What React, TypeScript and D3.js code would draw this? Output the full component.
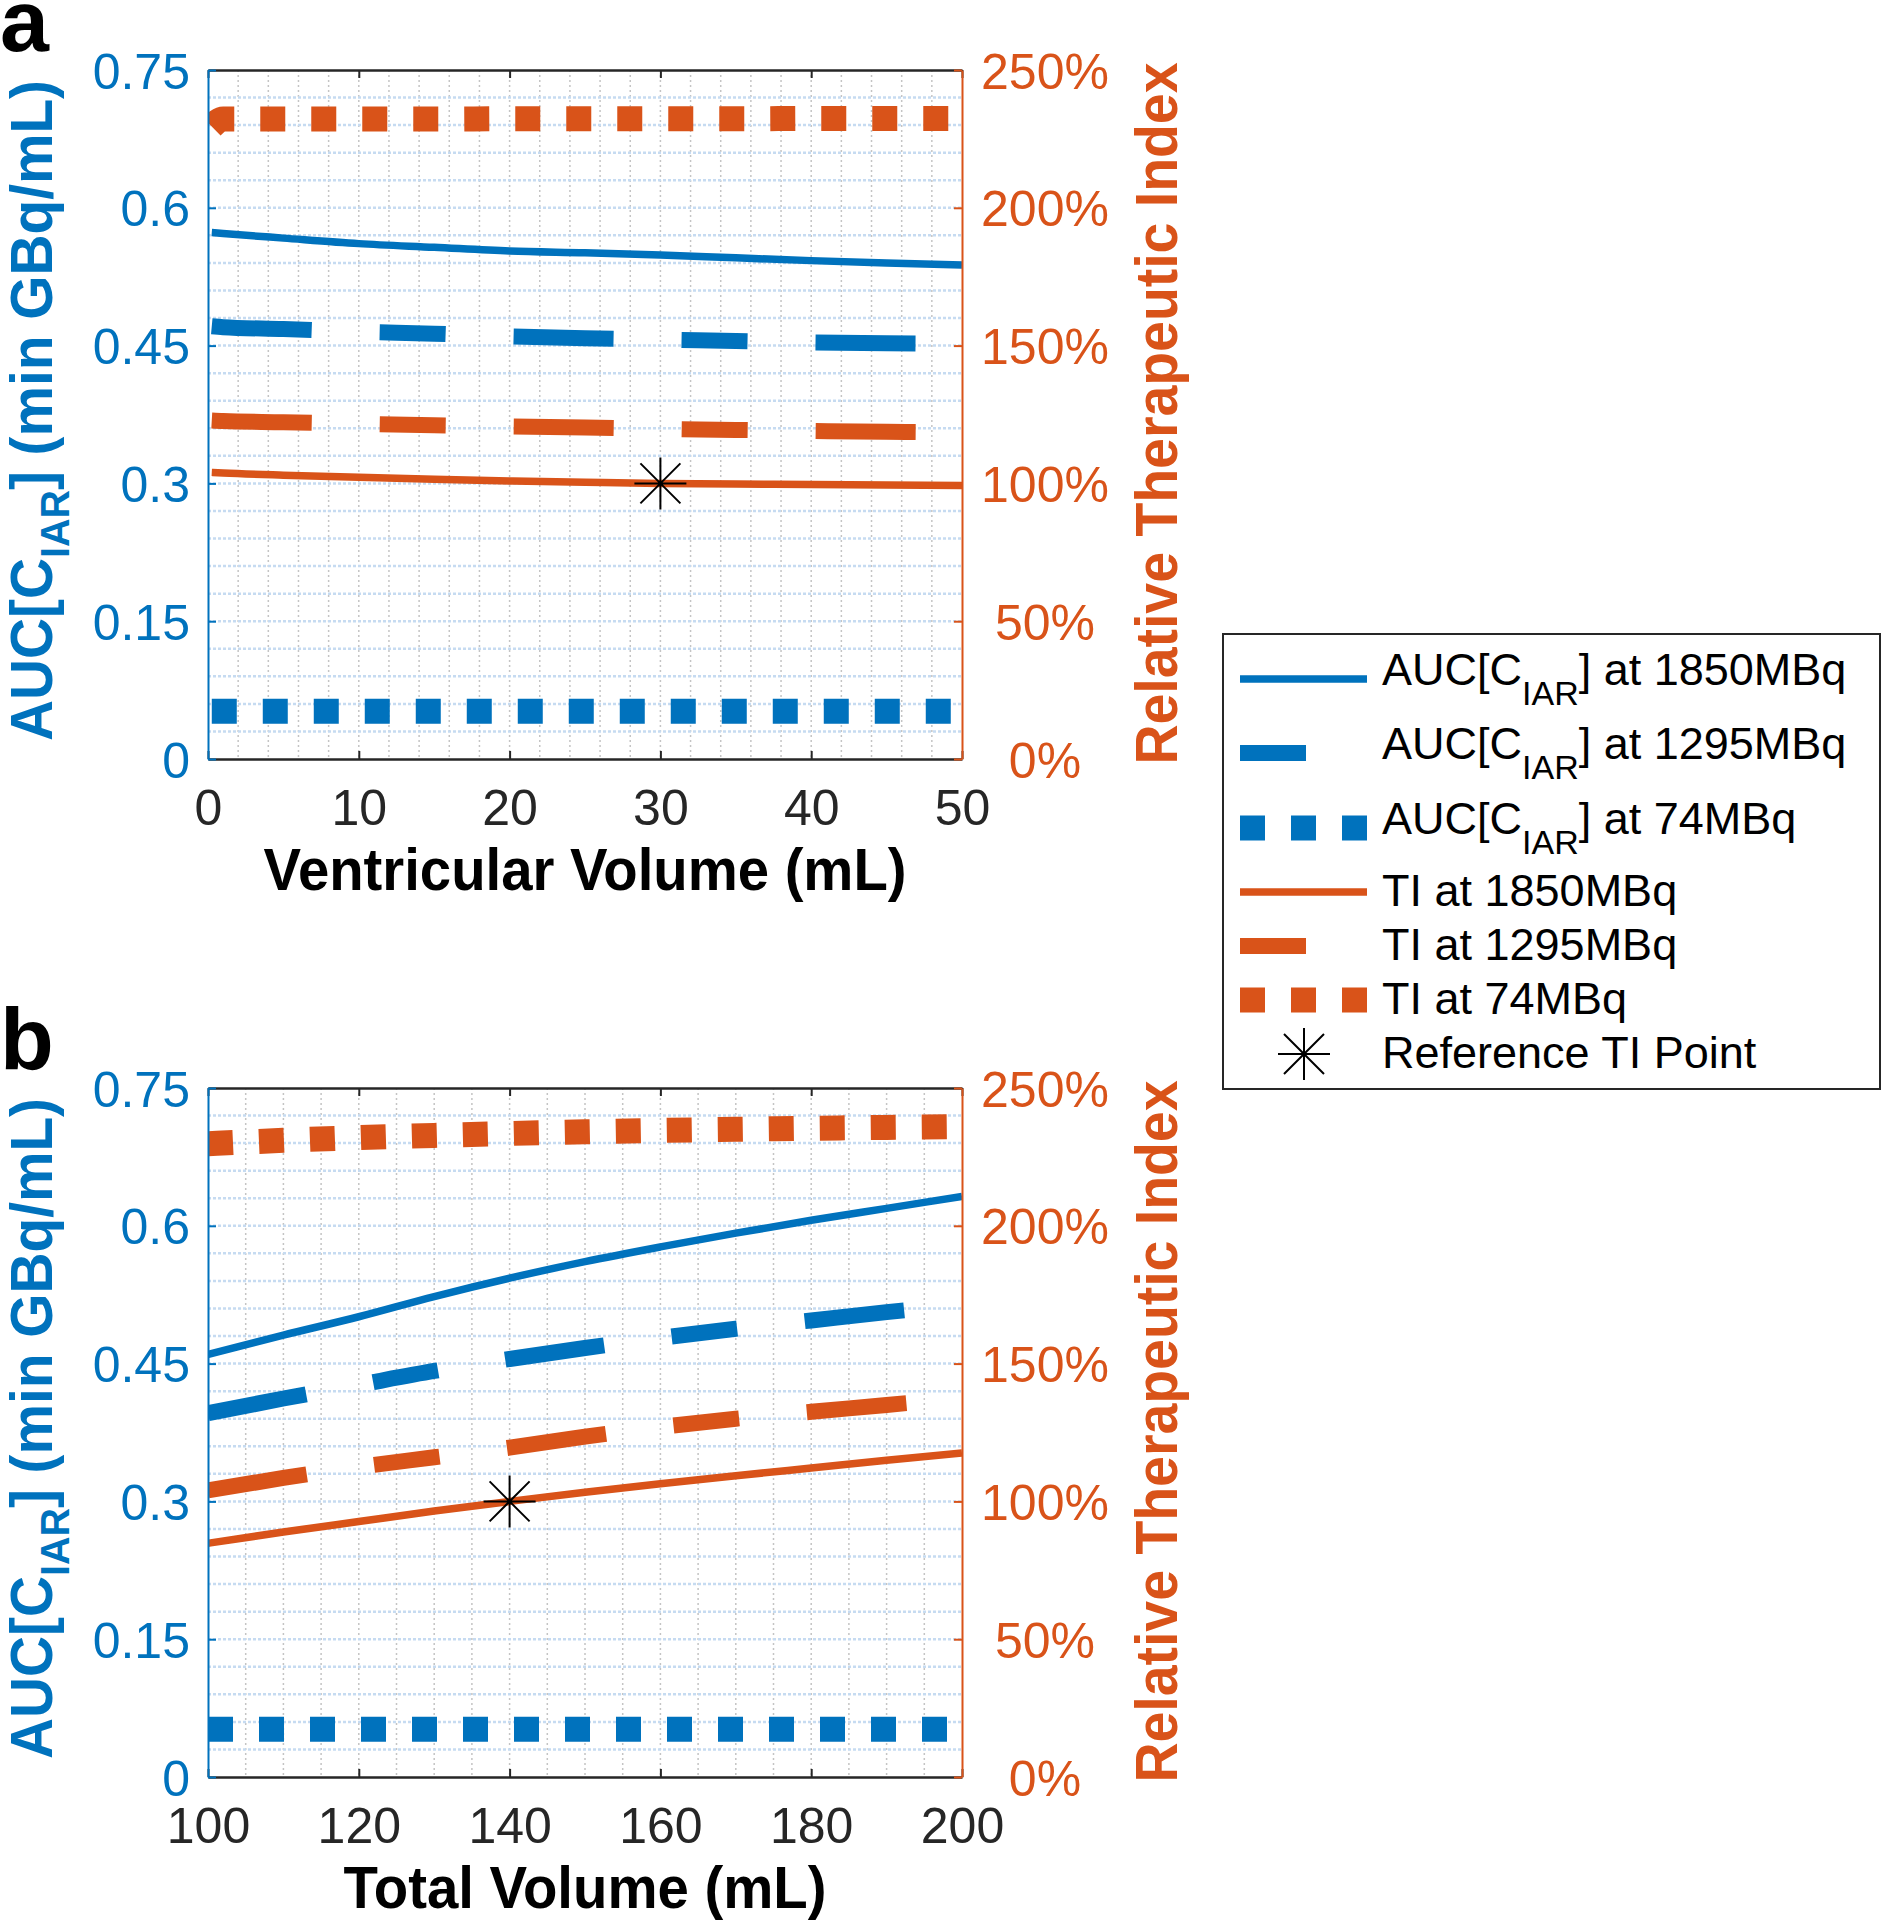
import { useEffect, useRef } from "react";
import * as d3 from "d3";

const BLUE = "#0072BD";
const ORANGE = "#D95319";
const INK = "#262626";
const FONT = "'Liberation Sans', Arial, Helvetica, sans-serif";

// ---- panel a: sweep of ventricular volume ----
const ventVolume = [0.25, 1, 5, 10, 15, 20, 25, 30, 35, 40, 45, 50];
const ventAuc1850 = [0.573, 0.572, 0.567, 0.561, 0.557, 0.553, 0.551, 0.5486, 0.5455, 0.5425, 0.54, 0.5377];
const ventAuc1295 = [0.471, 0.47, 0.468, 0.465, 0.463, 0.46, 0.458, 0.4565, 0.455, 0.4535, 0.4525, 0.452];
const ventAuc74 = [0.052, 0.052, 0.052, 0.052, 0.052, 0.052, 0.052, 0.052, 0.052, 0.052, 0.052, 0.052];
const ventTi1850 = [104.0, 103.8, 103.0, 102.2, 101.5, 100.9, 100.4, 100.0, 99.8, 99.6, 99.4, 99.2];
const ventTi1295 = [122.8, 122.6, 122.2, 121.6, 121.1, 120.7, 120.3, 119.8, 119.4, 119.0, 118.7, 118.5];
const ventTi74 = [229.5, 232.2, 232.2, 232.2, 232.2, 232.3, 232.3, 232.3, 232.3, 232.4, 232.4, 232.4];

// ---- panel b: sweep of total volume ----
const totalVolume = [100, 110, 120, 130, 140, 150, 160, 170, 180, 190, 200];
const totalAuc1850 = [0.46, 0.481, 0.501, 0.523, 0.543, 0.561, 0.577, 0.592, 0.606, 0.619, 0.632];
const totalAuc1295 = [0.396, 0.412, 0.427, 0.442, 0.455, 0.467, 0.478, 0.488, 0.497, 0.506, 0.514];
const totalAuc74 = [0.052, 0.052, 0.052, 0.052, 0.052, 0.052, 0.052, 0.052, 0.052, 0.052, 0.052];
const totalTi1850 = [84.8, 88.9, 92.7, 96.5, 100.0, 103.3, 106.4, 109.3, 112.1, 114.9, 117.6];
const totalTi1295 = [104.0, 108.5, 112.5, 116.0, 119.5, 123.5, 127.0, 130.0, 132.5, 135.0, 137.5];
const totalTi74 = [229.8, 231.0, 232.0, 232.8, 233.5, 234.1, 234.6, 235.0, 235.4, 235.7, 236.0];

const aucTicks = [0, 0.15, 0.3, 0.45, 0.6, 0.75];
const tiTicks = [0, 50, 100, 150, 200, 250];
const ventTicks = [0, 10, 20, 30, 40, 50];
const totalTicks = [100, 120, 140, 160, 180, 200];

const refVent = { x: 30, ti: 100 };
const refTotal = { x: 140, ti: 100 };

const legendLabels: string[][] = [
  ["AUC[C", "IAR", "] at 1850MBq"],
  ["AUC[C", "IAR", "] at 1295MBq"],
  ["AUC[C", "IAR", "] at 74MBq"],
  ["TI at 1850MBq"],
  ["TI at 1295MBq"],
  ["TI at 74MBq"],
  ["Reference TI Point"],
];

type LineKind = "solid" | "dashed" | "dotted";
interface Series {
  values: number[];
  side: "left" | "right";
  kind: LineKind;
}

const KIND: Record<LineKind, { width: number; dash: string | null; legendDash: string | null }> = {
  solid: { width: 7.5, dash: null, legendDash: null },
  dashed: { width: 16, dash: "100,68,66,68", legendDash: "66,90" },
  dotted: { width: 25, dash: "25,26", legendDash: "25,26" },
};

const panels = [
  {
    letter: "a",
    top: 70,
    xs: ventVolume,
    xDomain: [0, 50] as [number, number],
    xTicks: ventTicks,
    minorStep: 2,
    xTitle: "Ventricular Volume (mL)",
    xTitleLen: 643,
    ref: refVent,
    series: [
      { values: ventAuc1850, side: "left", kind: "solid" },
      { values: ventAuc1295, side: "left", kind: "dashed" },
      { values: ventAuc74, side: "left", kind: "dotted" },
      { values: ventTi1850, side: "right", kind: "solid" },
      { values: ventTi1295, side: "right", kind: "dashed" },
      { values: ventTi74, side: "right", kind: "dotted" },
    ] as Series[],
  },
  {
    letter: "b",
    top: 1088,
    xs: totalVolume,
    xDomain: [100, 200] as [number, number],
    xTicks: totalTicks,
    minorStep: 5,
    xTitle: "Total Volume (mL)",
    xTitleLen: 483,
    ref: refTotal,
    series: [
      { values: totalAuc1850, side: "left", kind: "solid" },
      { values: totalAuc1295, side: "left", kind: "dashed" },
      { values: totalAuc74, side: "left", kind: "dotted" },
      { values: totalTi1850, side: "right", kind: "solid" },
      { values: totalTi1295, side: "right", kind: "dashed" },
      { values: totalTi74, side: "right", kind: "dotted" },
    ] as Series[],
  },
];

const PL = 208;
const PW = 754;
const PH = 689;

const asterisk = (cx: number, cy: number) =>
  `M${cx - 26},${cy}H${cx + 26}M${cx},${cy - 26}V${cy + 26}` +
  `M${cx - 20},${cy - 20}L${cx + 20},${cy + 20}M${cx - 20},${cy + 20}L${cx + 20},${cy - 20}`;

const App = () => {
  const svgRef = useRef<SVGSVGElement | null>(null);

  useEffect(() => {
    const svg = d3.select(svgRef.current);
    svg.selectAll("*").remove();
    const defs = svg.append("defs");

    panels.forEach((p) => {
      const g = svg.append("g").attr("transform", `translate(${PL},${p.top})`);
      const x = d3.scaleLinear().domain(p.xDomain).range([0, PW]);
      const yL = d3.scaleLinear().domain([0, 0.75]).range([PH, 0]);
      const yR = d3.scaleLinear().domain([0, 250]).range([PH, 0]);

      const clipId = `clip-${p.letter}`;
      defs.append("clipPath").attr("id", clipId).append("rect").attr("width", PW).attr("height", PH);

      // grid (minor, dotted)
      const vx = d3.range(p.xDomain[0] + p.minorStep, p.xDomain[1] - 1e-6, p.minorStep);
      g.append("g")
        .selectAll("line")
        .data(vx)
        .enter()
        .append("line")
        .attr("x1", (d) => x(d))
        .attr("x2", (d) => x(d))
        .attr("y1", 0)
        .attr("y2", PH)
        .attr("stroke", "#c4c4c4")
        .attr("stroke-width", 1.5)
        .attr("stroke-dasharray", "2,3");
      const hy = d3.range(1, 25).map((i) => i * 0.03);
      g.append("g")
        .selectAll("line")
        .data(hy)
        .enter()
        .append("line")
        .attr("x1", 0)
        .attr("x2", PW)
        .attr("y1", (d) => yL(d))
        .attr("y2", (d) => yL(d))
        .attr("stroke", "#c6dbf1")
        .attr("stroke-width", 2.5)
        .attr("stroke-dasharray", "3,2");

      // series
      const plot = g.append("g").attr("clip-path", `url(#${clipId})`);
      p.series.forEach((s) => {
        const yS = s.side === "left" ? yL : yR;
        const line = d3
          .line<number>()
          .x((_, i) => x(p.xs[i]))
          .y((d) => yS(d))
          .curve(d3.curveMonotoneX);
        const k = KIND[s.kind];
        plot
          .append("path")
          .datum(s.values)
          .attr("fill", "none")
          .attr("stroke", s.side === "left" ? BLUE : ORANGE)
          .attr("stroke-width", k.width)
          .attr("stroke-dasharray", k.dash)
          .attr("d", line);
      });

      // reference TI point
      g.append("path")
        .attr("d", asterisk(x(p.ref.x), yR(p.ref.ti)))
        .attr("stroke", "#000")
        .attr("stroke-width", 2)
        .attr("fill", "none");

      // axes
      const bottom = g
        .append("g")
        .attr("transform", `translate(0,${PH})`)
        .call(d3.axisBottom(x).tickValues(p.xTicks).tickSizeInner(-8).tickSizeOuter(0).tickPadding(30));
      const top = g
        .append("g")
        .call(d3.axisTop(x).tickValues(p.xTicks).tickSizeInner(-8).tickSizeOuter(0).tickFormat(() => ""));
      [bottom, top].forEach((a) => {
        a.select(".domain").attr("stroke", INK).attr("stroke-width", 2.5);
        a.selectAll(".tick line").attr("stroke", INK).attr("stroke-width", 2);
      });
      bottom.selectAll("text").attr("fill", INK).style("font-size", "50px").style("font-family", FONT);

      const left = g
        .append("g")
        .call(
          d3
            .axisLeft(yL)
            .tickValues(aucTicks)
            .tickSizeInner(-8)
            .tickSizeOuter(0)
            .tickPadding(18)
            .tickFormat((d) => String(d))
        );
      left.select(".domain").attr("stroke", BLUE).attr("stroke-width", 2);
      left.selectAll(".tick line").attr("stroke", BLUE).attr("stroke-width", 2);
      left
        .selectAll("text")
        .attr("fill", BLUE)
        .attr("dy", "0.36em")
        .style("font-size", "50px")
        .style("font-family", FONT);

      const right = g
        .append("g")
        .attr("transform", `translate(${PW},0)`)
        .call(
          d3
            .axisRight(yR)
            .tickValues(tiTicks)
            .tickSizeInner(-8)
            .tickSizeOuter(0)
            .tickFormat((d) => `${d}%`)
        );
      right.select(".domain").attr("stroke", ORANGE).attr("stroke-width", 2);
      right.selectAll(".tick line").attr("stroke", ORANGE).attr("stroke-width", 2);
      right
        .selectAll("text")
        .attr("fill", ORANGE)
        .attr("x", 83)
        .attr("dy", "0.36em")
        .attr("text-anchor", "middle")
        .style("font-size", "50px")
        .style("font-family", FONT);

      // titles
      g.append("text")
        .attr("x", PW / 2)
        .attr("y", PH + 131)
        .attr("text-anchor", "middle")
        .attr("fill", "#000")
        .attr("textLength", p.xTitleLen)
        .attr("lengthAdjust", "spacingAndGlyphs")
        .style("font-size", "59px")
        .style("font-weight", "bold")
        .text(p.xTitle);

      const lt = g
        .append("text")
        .attr("transform", `translate(${52 - PL},${PH / 2 - 4}) rotate(-90)`)
        .attr("text-anchor", "middle")
        .attr("fill", BLUE)
        .attr("textLength", 661)
        .attr("lengthAdjust", "spacingAndGlyphs")
        .style("font-size", "59px")
        .style("font-weight", "bold");
      lt.append("tspan").text("AUC[C");
      lt.append("tspan").attr("dy", 17).style("font-size", "41px").text("IAR");
      lt.append("tspan").attr("dy", -17).text("] (min GBq/mL)");

      g.append("text")
        .attr("transform", `translate(${1177 - PL},${PH / 2 - 1}) rotate(-90)`)
        .attr("text-anchor", "middle")
        .attr("fill", ORANGE)
        .attr("textLength", 702)
        .attr("lengthAdjust", "spacingAndGlyphs")
        .style("font-size", "59px")
        .style("font-weight", "bold")
        .text("Relative Therapeutic Index");

      svg
        .append("text")
        .attr("x", 0)
        .attr("y", p.top - 19)
        .attr("fill", "#000")
        .style("font-size", "88px")
        .style("font-weight", "bold")
        .text(p.letter);
    });

    // legend
    const lg = svg.append("g");
    lg.append("rect")
      .attr("x", 1223)
      .attr("y", 634)
      .attr("width", 657)
      .attr("height", 455)
      .attr("fill", "#fff")
      .attr("stroke", INK)
      .attr("stroke-width", 2);
    const rowY = [679, 753, 828, 892, 946, 1000, 1054];
    const legendSeries = panels[0].series;
    legendLabels.forEach((parts, i) => {
      const cy = rowY[i];
      const s = legendSeries[i];
      if (s) {
        const k = KIND[s.kind];
        lg.append("line")
          .attr("x1", 1240)
          .attr("x2", 1367)
          .attr("y1", cy)
          .attr("y2", cy)
          .attr("stroke", s.side === "left" ? BLUE : ORANGE)
          .attr("stroke-width", k.width)
          .attr("stroke-dasharray", k.legendDash);
      } else {
        lg.append("path")
          .attr("d", asterisk(1304, cy))
          .attr("stroke", "#000")
          .attr("stroke-width", 2)
          .attr("fill", "none");
      }
      const t = lg
        .append("text")
        .attr("x", 1382)
        .attr("y", cy + (parts.length > 1 ? 6 : 14))
        .attr("fill", "#000")
        .style("font-size", "45px");
      t.append("tspan").text(parts[0]);
      if (parts.length > 1) {
        t.append("tspan").attr("dy", 20).style("font-size", "34px").text(parts[1]);
        t.append("tspan").attr("dy", -20).text(parts[2]);
      }
    });
  }, []);

  return (
    <svg
      ref={svgRef}
      width={1884}
      height={1920}
      style={{ position: "absolute", left: 0, top: 0, background: "#fff", fontFamily: FONT }}
    />
  );
};

export default App;
